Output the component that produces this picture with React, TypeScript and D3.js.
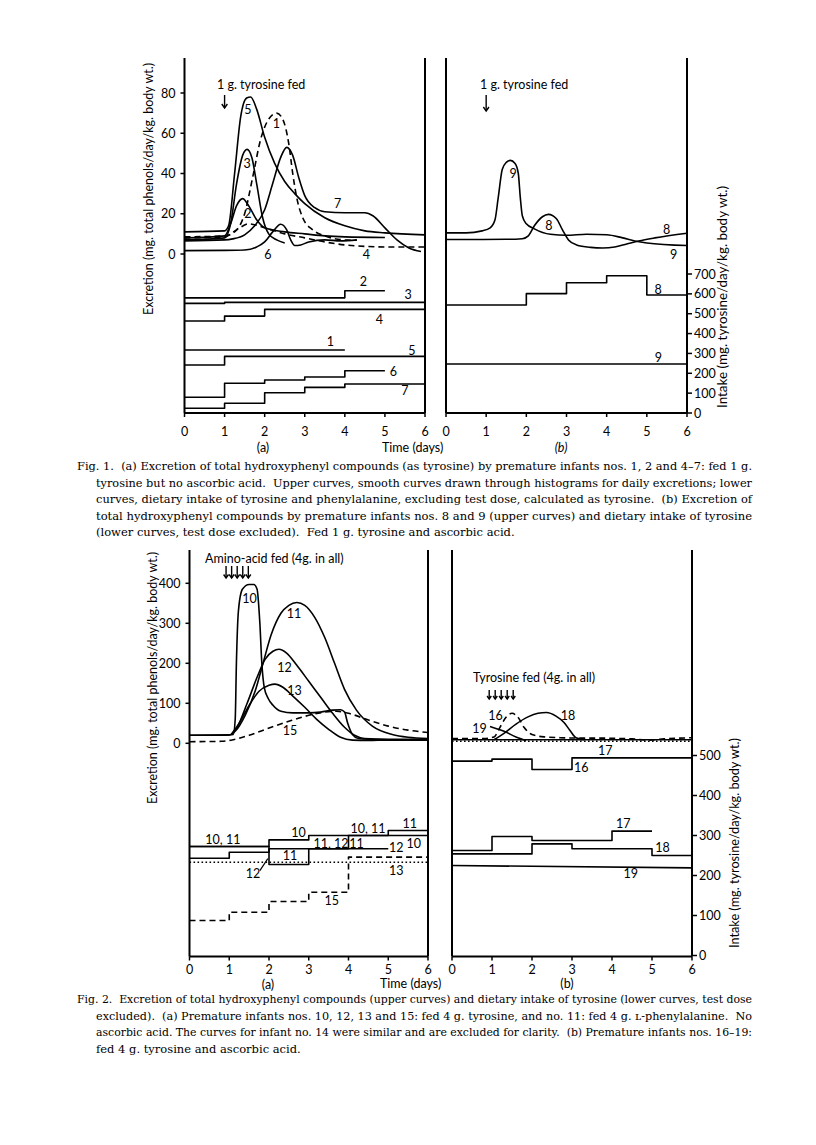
import React from "react";
import * as d3 from "d3";

type P = [number, number];
type Lab = { t: string; d: number; v: number };

// ---------------- shared ticks ----------------
const DAY_TICKS = [0, 1, 2, 3, 4, 5, 6];
const F1_EXC_TICKS = [0, 20, 40, 60, 80];
const F1_INTAKE_TICKS = [0, 100, 200, 300, 400, 500, 600, 700];
const F2_EXC_TICKS = [0, 100, 200, 300, 400];
const F2_INTAKE_TICKS = [0, 100, 200, 300, 400, 500];

// ---------------- Fig. 1 (a) excretion (day, mg/day/kg) ----------------
const F1A_EXC_1: P[] = [[0, 8.5], [1, 9], [1.3, 12], [1.5, 20], [1.7, 38], [1.9, 57], [2.1, 67], [2.3, 70], [2.45, 67], [2.6, 55], [2.7, 40], [2.8, 28], [2.95, 18], [3.2, 12], [3.5, 9], [4, 7], [4.3, 6.8]];
const F1A_EXC_2: P[] = [[0, 8], [1, 9], [1.15, 15], [1.3, 24], [1.45, 27.5], [1.6, 24], [1.8, 17], [2, 13], [2.5, 11], [3, 10], [3.5, 9], [4, 8.5], [5, 8.2]];
const F1A_EXC_3: P[] = [[0, 7], [1, 8], [1.15, 15], [1.3, 35], [1.45, 49], [1.56, 52], [1.68, 48], [1.8, 35], [1.95, 18], [2.1, 10], [2.3, 7], [2.5, 5.5]];
const F1A_EXC_4: P[] = [[0, 8], [1, 8.5], [1.3, 12], [1.6, 15], [2, 13], [2.5, 10], [3, 8], [3.5, 6], [4, 4.5], [4.5, 3.8], [5, 3.5], [6, 3.5]];
const F1A_EXC_5: P[] = [[0, 11], [1, 11.5], [1.1, 14], [1.25, 40], [1.4, 68], [1.55, 77.5], [1.65, 78], [1.8, 72], [2, 58], [2.25, 45], [2.5, 36], [2.75, 30], [3, 25], [3.5, 18], [4, 14], [4.5, 11.5], [5, 10.5], [6, 9.5]];
const F1A_EXC_6: P[] = [[0, 1.7], [1, 1.8], [1.5, 2], [1.8, 3.5], [2, 6], [2.2, 11], [2.4, 14.8], [2.55, 12], [2.65, 7], [2.75, 4.2], [2.9, 4.5], [3.1, 6], [3.5, 7], [3.9, 6.5], [4.3, 7]];
const F1A_EXC_7: P[] = [[0, 6.5], [1, 7], [1.2, 7.5], [1.5, 9.5], [1.75, 14], [2, 22], [2.2, 35], [2.4, 48], [2.55, 53], [2.7, 49], [2.85, 38], [3, 29], [3.25, 23], [3.5, 21], [4, 20.5], [4.5, 20.5], [4.7, 19], [5, 13], [5.3, 7], [5.6, 3], [5.9, 1.2]];

// ---------------- Fig. 1 (b) excretion ----------------
const F1B_EXC_8: P[] = [[0, 7.2], [1.5, 7.3], [1.9, 7.6], [2.05, 9], [2.2, 14], [2.4, 18.5], [2.55, 19.7], [2.75, 17.5], [2.9, 12], [3.05, 7], [3.25, 4.5], [3.6, 3.3], [3.9, 3], [4.2, 3.5], [4.5, 5], [4.8, 6.5], [5.2, 8], [6, 10.3]];
const F1B_EXC_9: P[] = [[0, 10.5], [0.5, 10.5], [0.9, 11.5], [1.1, 13], [1.22, 17], [1.3, 28], [1.4, 42], [1.5, 45.5], [1.6, 46.5], [1.72, 45], [1.8, 40], [1.85, 28], [1.9, 19], [2, 15], [2.2, 12.5], [2.6, 9.8], [3, 9.3], [3.5, 9.8], [4, 9.6], [4.4, 8], [4.7, 6.5], [5, 5.5], [6, 4.2]];

// ---------------- Fig. 1 intake, one value per day ----------------
const F1A_INT_1 = [317, 317, 317, 317];
const F1A_INT_2 = [580, 580, 580, 580, 616];
const F1A_INT_3 = [552, 557, 557, 557, 557, 557];
const F1A_INT_4 = [463, 488, 522, 522, 522, 522];
const F1A_INT_5 = [242, 285, 285, 285, 285, 285];
const F1A_INT_6 = [79, 150, 166, 181, 213];
const F1A_INT_7 = [24, 49, 102, 129, 146, 146];
const F1B_INT_8 = [544, 544, 601, 656, 691, 594];
const F1B_INT_9 = [247, 247, 247, 247, 247, 247];

// ---------------- Fig. 2 (a) excretion ----------------
const F2A_EXC_10: P[] = [[0, 20], [0.9, 20], [1.1, 22], [1.15, 60], [1.18, 200], [1.23, 330], [1.33, 385], [1.5, 397], [1.62, 397], [1.7, 385], [1.77, 300], [1.82, 200], [1.88, 140], [1.98, 112], [2.1, 95], [2.3, 80], [2.6, 76], [3, 76], [3.3, 78], [3.6, 83], [3.8, 84], [3.9, 78], [3.98, 50], [4.1, 22], [4.25, 12], [4.5, 10], [5, 9], [6, 9]];
const F2A_EXC_11: P[] = [[0, 20], [1, 21], [1.15, 30], [1.4, 70], [1.65, 130], [1.85, 200], [2.05, 270], [2.3, 325], [2.5, 345], [2.7, 352], [2.9, 345], [3.15, 315], [3.4, 265], [3.65, 200], [3.9, 135], [4.2, 83], [4.6, 43], [5.1, 22], [5.5, 15], [6, 12]];
const F2A_EXC_12: P[] = [[1.05, 22], [1.2, 40], [1.45, 100], [1.7, 165], [1.9, 210], [2.1, 230], [2.25, 235], [2.45, 225], [2.7, 195], [3, 155], [3.3, 115], [3.6, 75], [3.9, 40], [4.15, 20], [4.4, 12], [5, 10], [6, 10]];
const F2A_EXC_13: P[] = [[1.05, 22], [1.25, 50], [1.5, 95], [1.75, 130], [2, 145], [2.15, 148], [2.35, 140], [2.6, 118], [2.9, 90], [3.2, 60], [3.5, 35], [3.8, 15], [4.1, 8], [4.5, 7], [5, 8], [6, 8]];
const F2A_EXC_15: P[] = [[0, 4], [0.8, 5], [1.1, 9], [1.5, 20], [2, 38], [2.5, 55], [3, 70], [3.4, 78], [3.7, 80], [4, 75], [4.5, 58], [5, 43], [5.5, 33], [6, 27]];

// ---------------- Fig. 2 (b) excretion ----------------
const F2B_EXC_16: P[] = [[0, 12], [0.8, 12], [1.05, 16], [1.2, 40], [1.35, 65], [1.5, 75], [1.65, 65], [1.8, 40], [2, 22], [2.3, 16], [2.7, 14], [3.2, 13], [3.7, 13], [4.2, 12], [4.5, 11], [4.9, 8], [5.3, 11], [6, 14]];
const F2B_EXC_17: P[] = [[0, 9], [6, 9]];
const F2B_EXC_18: P[] = [[1.05, 9], [1.3, 25], [1.6, 48], [1.9, 66], [2.15, 75], [2.36, 77], [2.6, 68], [2.8, 52], [2.95, 32], [3.1, 14], [3.3, 9]];
const F2B_EXC_19: P[] = [[0.95, 42], [1.3, 30], [1.6, 16], [1.85, 7]];
const F2B_EXC_19_BASE: P[] = [[0, 5], [6, 5]];

// ---------------- Fig. 2 intake ----------------
const F2A_INT_10 = [272.5, 272.5, 289, 300, 300, 300];
const F2A_INT_11 = [272.5, 272.5, 227.5, 266.7, 300, 312.5];
const F2A_INT_12 = [243, 258, 266.7, 266.7, 266.7];
const F2A_INT_13 = [233, 233, 233, 233, 233, 233];
const F2A_INT_15 = [87.5, 108, 135, 158, 246, 246];
const F2B_INT_16 = [486, 491, 465, 494, 494, 494];
const F2B_INT_17 = [262.5, 297.5, 287.5, 287.5, 311];
const F2B_INT_18 = [254, 254, 279, 267, 267, 250];
const F2B_INT_19: P[] = [[0, 225], [6, 219]];
const F2A_POINTER_12: P[] = [[1.77, 212], [1.97, 242]];

// ---------------- feeding marks (day) ----------------
const F1_FEED_DAY = [1];
const F2A_FEED_DAYS = [0.92, 1.06, 1.2, 1.34, 1.48];
const F2B_FEED_DAYS = [0.93, 1.08, 1.23, 1.38, 1.53];

// ---------------- curve labels ----------------
const F1A_EXC_LABELS: Lab[] = [
  { t: "5", d: 1.58, v: 72 }, { t: "3", d: 1.56, v: 45 }, { t: "2", d: 1.58, v: 20 },
  { t: "1", d: 2.29, v: 65 }, { t: "7", d: 3.82, v: 25 }, { t: "6", d: 2.08, v: 0 }, { t: "4", d: 4.54, v: 0 },
];
const F1B_EXC_LABELS: Lab[] = [
  { t: "9", d: 1.67, v: 40 }, { t: "8", d: 2.56, v: 14 }, { t: "8", d: 5.49, v: 12 }, { t: "9", d: 5.67, v: 0 },
];
const F1A_INT_LABELS: Lab[] = [
  { t: "2", d: 4.46, v: 661 }, { t: "3", d: 5.58, v: 599 }, { t: "4", d: 4.86, v: 473 }, { t: "1", d: 3.64, v: 359 },
  { t: "5", d: 5.67, v: 317 }, { t: "6", d: 5.21, v: 211 }, { t: "7", d: 5.5, v: 112 },
];
const F1B_INT_LABELS: Lab[] = [{ t: "8", d: 5.28, v: 624 }, { t: "9", d: 5.29, v: 280 }];
const F2A_EXC_LABELS: Lab[] = [
  { t: "10", d: 1.51, v: 362 }, { t: "11", d: 2.63, v: 325 }, { t: "12", d: 2.39, v: 189 },
  { t: "13", d: 2.64, v: 133 }, { t: "15", d: 2.53, v: 33 },
];
const F2B_EXC_LABELS: Lab[] = [
  { t: "16", d: 1.09, v: 69 }, { t: "18", d: 2.9, v: 69 }, { t: "19", d: 0.69, v: 37 }, { t: "17", d: 3.83, v: -17 },
];
const F2A_INT_LABELS: Lab[] = [
  { t: "10, 11", d: 0.84, v: 290 }, { t: "10", d: 2.74, v: 308 }, { t: "10, 11", d: 4.49, v: 317 },
  { t: "11", d: 5.54, v: 329 }, { t: "11, 12", d: 3.56, v: 281 }, { t: "11", d: 4.2, v: 281 },
  { t: "12", d: 5.2, v: 269 }, { t: "10", d: 5.64, v: 279 }, { t: "11", d: 2.53, v: 250 },
  { t: "12", d: 1.6, v: 206 }, { t: "13", d: 5.2, v: 212.5 }, { t: "15", d: 3.58, v: 137.5 },
];
const F2B_INT_LABELS: Lab[] = [
  { t: "17", d: 4.28, v: 329 }, { t: "18", d: 5.26, v: 269 }, { t: "19", d: 4.47, v: 204 }, { t: "16", d: 3.23, v: 471 },
];

// ---------------- texts ----------------
const EXC_TITLE = "Excretion (mg. total phenols/day/kg. body wt.)";
const INT_TITLE = "Intake (mg. tyrosine/day/kg. body wt.)";
const F1_FEED_TEXT = "1 g. tyrosine fed";
const F2A_FEED_TEXT = "Amino-acid fed (4g. in all)";
const F2B_FEED_TEXT = "Tyrosine fed (4g. in all)";
const TIME_TEXT = "Time (days)";

const FIG1_CAPTION: string[] = [
  "Fig. 1.  (a) Excretion of total hydroxyphenyl compounds (as tyrosine) by premature infants nos. 1, 2 and 4\u20137: fed 1 g.",
  "tyrosine but no ascorbic acid.  Upper curves, smooth curves drawn through histograms for daily excretions; lower",
  "curves, dietary intake of tyrosine and phenylalanine, excluding test dose, calculated as tyrosine.  (b) Excretion of",
  "total hydroxyphenyl compounds by premature infants nos. 8 and 9 (upper curves) and dietary intake of tyrosine",
  "(lower curves, test dose excluded).  Fed 1 g. tyrosine and ascorbic acid.",
];
const FIG2_CAPTION: string[] = [
  "Fig. 2.  Excretion of total hydroxyphenyl compounds (upper curves) and dietary intake of tyrosine (lower curves, test dose",
  "excluded).  (a) Premature infants nos. 10, 12, 13 and 15: fed 4 g. tyrosine, and no. 11: fed 4 g. \u029F-phenylalanine.  No",
  "ascorbic acid. The curves for infant no. 14 were similar and are excluded for clarity.  (b) Premature infants nos. 16\u201319:",
  "fed 4 g. tyrosine and ascorbic acid.",
];

// ---------------- scales ----------------
const x1a = d3.scaleLinear().domain([0, 6]).range([184.5, 425]);
const x1b = d3.scaleLinear().domain([0, 6]).range([446, 687]);
const y1e = d3.scaleLinear().domain([0, 80]).range([254, 93]);
const y1i = d3.scaleLinear().domain([0, 700]).range([413, 274]);
const x2a = d3.scaleLinear().domain([0, 6]).range([189.5, 428]);
const x2b = d3.scaleLinear().domain([0, 6]).range([452, 692]);
const y2e = d3.scaleLinear().domain([0, 400]).range([743.3, 583.3]);
const y2i = d3.scaleLinear().domain([0, 500]).range([955.5, 755.5]);

const SANS = "Lato, 'Open Sans', sans-serif";
const SERIF = "'DejaVu Serif', 'Liberation Serif', serif";

type Sc = d3.ScaleLinear<number, number>;
const stepPts = (vals: number[]): P[] => [...vals.map((v, i) => [i, v] as P), [vals.length, vals[vals.length - 1]]];
const smooth = (x: Sc, y: Sc, pts: P[]) =>
  d3.line<P>().x((p) => x(p[0])).y((p) => y(p[1])).curve(d3.curveMonotoneX)(pts) || "";
const straight = (x: Sc, y: Sc, pts: P[]) => d3.line<P>().x((p) => x(p[0])).y((p) => y(p[1]))(pts) || "";
const stepLine = (x: Sc, y: Sc, vals: number[]) =>
  d3.line<P>().x((p) => x(p[0])).y((p) => y(p[1])).curve(d3.curveStepAfter)(stepPts(vals)) || "";

const DASH = "6,4";
const DOT = "1.6,2.4";

function Curve({ d, dash, w = 1.6 }: { d: string; dash?: string; w?: number }) {
  return <path d={d} fill="none" stroke="#000" strokeWidth={w} strokeDasharray={dash} strokeLinejoin="round" />;
}

function Labels({ labs, x, y, size = 12.5 }: { labs: Lab[]; x: Sc; y: Sc; size?: number }) {
  return (
    <g fontFamily={SANS} fontSize={size} textAnchor="middle" dominantBaseline="central">
      {labs.map((l, i) => (
        <text key={i} x={x(l.d)} y={y(l.v)}>{l.t}</text>
      ))}
    </g>
  );
}

function Arrow({ x, y1, y2, head = 4 }: { x: number; y1: number; y2: number; head?: number }) {
  return (
    <g stroke="#000" strokeWidth={1.4} fill="none">
      <line x1={x} y1={y1} x2={x} y2={y2} />
      <path d={`M${x - head * 0.7},${y2 - head} L${x},${y2} L${x + head * 0.7},${y2 - head}`} />
    </g>
  );
}

function Caption({ lines, x0, xIndent, right, y0, lh }: { lines: string[]; x0: number; xIndent: number; right: number; y0: number; lh: number }) {
  return (
    <g fontFamily={SERIF} fontSize={11.5} fill="#000">
      {lines.map((s, i) => {
        const x = i === 0 ? x0 : xIndent;
        const last = i === lines.length - 1;
        return last ? (
          <text key={i} x={x} y={y0 + i * lh} xmlSpace="preserve">{s}</text>
        ) : (
          <text key={i} x={x} y={y0 + i * lh} textLength={right - x} lengthAdjust="spacingAndGlyphs" xmlSpace="preserve">{s}</text>
        );
      })}
    </g>
  );
}

function BottomAxis({ x, y, labelDy }: { x: Sc; y: number; labelDy: number }) {
  return (
    <g>
      <line x1={x(0)} x2={x(6)} y1={y} y2={y} stroke="#000" strokeWidth={2} />
      {DAY_TICKS.map((t) => (
        <g key={t}>
          <line x1={x(t)} x2={x(t)} y1={y} y2={y + 4} stroke="#000" strokeWidth={1.5} />
          <text x={x(t)} y={y + labelDy} fontFamily={SANS} fontSize={12.5} textAnchor="middle">{t}</text>
        </g>
      ))}
    </g>
  );
}

function LeftTicks({ ticks, x, y }: { ticks: number[]; x: number; y: Sc }) {
  return (
    <g>
      {ticks.map((t) => (
        <g key={t}>
          <line x1={x - 4} x2={x} y1={y(t)} y2={y(t)} stroke="#000" strokeWidth={1.5} />
          <text x={x - 9} y={y(t)} fontFamily={SANS} fontSize={12.5} textAnchor="end" dominantBaseline="central">{t}</text>
        </g>
      ))}
    </g>
  );
}

function RightTicks({ ticks, x, y }: { ticks: number[]; x: number; y: Sc }) {
  return (
    <g>
      {ticks.map((t) => (
        <g key={t}>
          <line x1={x} x2={x + 5} y1={y(t)} y2={y(t)} stroke="#000" strokeWidth={1.5} />
          <text x={x + 7} y={y(t)} fontFamily={SANS} fontSize={12.5} textAnchor="start" dominantBaseline="central">{t}</text>
        </g>
      ))}
    </g>
  );
}

function VTitle({ text, cx, cy, len }: { text: string; cx: number; cy: number; len: number }) {
  return (
    <text x={0} y={0} transform={`translate(${cx},${cy}) rotate(-90)`} fontFamily={SANS} fontSize={12.5}
      textAnchor="middle" dominantBaseline="central" textLength={len} lengthAdjust="spacingAndGlyphs">{text}</text>
  );
}

export default function App() {
  const f1Top = 58;
  const f1Bot = y1i(0);
  const f2Top = 550;
  const f2Bot = y2i(0) + 1;
  const frame = (x: number, top: number, bot: number) => (
    <line x1={x} x2={x} y1={top} y2={bot} stroke="#000" strokeWidth={2} />
  );

  return (
    <svg width={816} height={1145} viewBox="0 0 816 1145" style={{ position: "absolute", left: 0, top: 0, background: "#fff" }}>
      <rect x={0} y={0} width={816} height={1145} fill="#fff" />

      {/* ================= FIG. 1 ================= */}
      {frame(x1a(0), f1Top, f1Bot)}
      {frame(x1a(6), f1Top, f1Bot)}
      {frame(x1b(0), f1Top, f1Bot)}
      {frame(x1b(6), f1Top, f1Bot)}
      <BottomAxis x={x1a} y={f1Bot} labelDy={23} />
      <BottomAxis x={x1b} y={f1Bot} labelDy={23} />
      <LeftTicks ticks={F1_EXC_TICKS} x={x1a(0)} y={y1e} />
      <RightTicks ticks={F1_INTAKE_TICKS} x={x1b(6)} y={y1i} />
      <VTitle text={EXC_TITLE} cx={148} cy={189} len={252} />
      <VTitle text={INT_TITLE} cx={722} cy={297} len={222} />

      {/* excretion (a) */}
      <Curve d={smooth(x1a, y1e, F1A_EXC_1)} dash={DASH} />
      <Curve d={smooth(x1a, y1e, F1A_EXC_4)} dash={DASH} />
      <Curve d={smooth(x1a, y1e, F1A_EXC_2)} />
      <Curve d={smooth(x1a, y1e, F1A_EXC_3)} />
      <Curve d={smooth(x1a, y1e, F1A_EXC_5)} />
      <Curve d={smooth(x1a, y1e, F1A_EXC_6)} />
      <Curve d={smooth(x1a, y1e, F1A_EXC_7)} />
      <Labels labs={F1A_EXC_LABELS} x={x1a} y={y1e} />
      {/* excretion (b) */}
      <Curve d={smooth(x1b, y1e, F1B_EXC_8)} />
      <Curve d={smooth(x1b, y1e, F1B_EXC_9)} />
      <Labels labs={F1B_EXC_LABELS} x={x1b} y={y1e} />

      {/* intake */}
      {[F1A_INT_1, F1A_INT_2, F1A_INT_3, F1A_INT_4, F1A_INT_5, F1A_INT_6, F1A_INT_7].map((v, i) => (
        <Curve key={i} d={stepLine(x1a, y1i, v)} />
      ))}
      <Labels labs={F1A_INT_LABELS} x={x1a} y={y1i} />
      <Curve d={stepLine(x1b, y1i, F1B_INT_8)} />
      <Curve d={stepLine(x1b, y1i, F1B_INT_9)} />
      <Labels labs={F1B_INT_LABELS} x={x1b} y={y1i} />

      {/* feeding */}
      <text x={217} y={89} fontFamily={SANS} fontSize={12.5}>{F1_FEED_TEXT}</text>
      <text x={480} y={89} fontFamily={SANS} fontSize={12.5}>{F1_FEED_TEXT}</text>
      {F1_FEED_DAY.map((d) => <Arrow key={"a" + d} x={x1a(d)} y1={95} y2={108} />)}
      {F1_FEED_DAY.map((d) => <Arrow key={"b" + d} x={x1b(d)} y1={95} y2={111} />)}

      <text x={263} y={452} fontFamily={SANS} fontSize={12.5} textAnchor="middle">(a)</text>
      <text x={382} y={452} fontFamily={SANS} fontSize={12.5}>{TIME_TEXT}</text>
      <text x={561} y={452} fontFamily={SANS} fontSize={12.5} textAnchor="middle" fontStyle="italic">(b)</text>

      <Caption lines={FIG1_CAPTION} x0={77} xIndent={96} right={752} y0={470} lh={16.5} />

      {/* ================= FIG. 2 ================= */}
      {frame(x2a(0), f2Top, f2Bot)}
      {frame(x2a(6), f2Top, f2Bot)}
      {frame(x2b(0), f2Top, f2Bot)}
      {frame(x2b(6), f2Top, f2Bot)}
      <BottomAxis x={x2a} y={f2Bot} labelDy={17} />
      <BottomAxis x={x2b} y={f2Bot} labelDy={17} />
      <LeftTicks ticks={F2_EXC_TICKS} x={x2a(0)} y={y2e} />
      <RightTicks ticks={F2_INTAKE_TICKS} x={x2b(6)} y={y2i} />
      <VTitle text={EXC_TITLE} cx={152} cy={678} len={252} />
      <VTitle text={INT_TITLE} cx={734} cy={843} len={210} />

      {/* excretion (a) */}
      <Curve d={smooth(x2a, y2e, F2A_EXC_15)} dash={DASH} />
      <Curve d={smooth(x2a, y2e, F2A_EXC_10)} />
      <Curve d={smooth(x2a, y2e, F2A_EXC_11)} />
      <Curve d={smooth(x2a, y2e, F2A_EXC_12)} />
      <Curve d={smooth(x2a, y2e, F2A_EXC_13)} />
      <Labels labs={F2A_EXC_LABELS} x={x2a} y={y2e} />
      {/* excretion (b) */}
      <Curve d={smooth(x2b, y2e, F2B_EXC_16)} dash={DASH} />
      <Curve d={straight(x2b, y2e, F2B_EXC_17)} />
      <Curve d={straight(x2b, y2e, F2B_EXC_19_BASE)} dash={DOT} />
      <Curve d={smooth(x2b, y2e, F2B_EXC_18)} />
      <Curve d={smooth(x2b, y2e, F2B_EXC_19)} />
      <Labels labs={F2B_EXC_LABELS} x={x2b} y={y2e} />

      {/* intake (a) */}
      <Curve d={stepLine(x2a, y2i, F2A_INT_10)} />
      <Curve d={stepLine(x2a, y2i, F2A_INT_11)} />
      <Curve d={stepLine(x2a, y2i, F2A_INT_12)} />
      <Curve d={stepLine(x2a, y2i, F2A_INT_13)} dash={DOT} />
      <Curve d={stepLine(x2a, y2i, F2A_INT_15)} dash={DASH} />
      <Labels labs={F2A_INT_LABELS} x={x2a} y={y2i} />
      <path d={straight(x2a, y2i, F2A_POINTER_12)} stroke="#000" strokeWidth={1.2} fill="none" />
      {/* intake (b) */}
      <Curve d={stepLine(x2b, y2i, F2B_INT_16)} />
      <Curve d={stepLine(x2b, y2i, F2B_INT_17)} />
      <Curve d={stepLine(x2b, y2i, F2B_INT_18)} />
      <Curve d={straight(x2b, y2i, F2B_INT_19)} />
      <Labels labs={F2B_INT_LABELS} x={x2b} y={y2i} />

      {/* feeding */}
      <text x={205} y={563} fontFamily={SANS} fontSize={12.5}>{F2A_FEED_TEXT}</text>
      {F2A_FEED_DAYS.map((d) => <Arrow key={"fa" + d} x={x2a(d)} y1={566} y2={578} head={3.5} />)}
      <text x={473} y={682} fontFamily={SANS} fontSize={12.5}>{F2B_FEED_TEXT}</text>
      {F2B_FEED_DAYS.map((d) => <Arrow key={"fb" + d} x={x2b(d)} y1={690} y2={699} head={3} />)}

      <text x={268} y={989} fontFamily={SANS} fontSize={12.5} textAnchor="middle">(a)</text>
      <text x={380} y={988} fontFamily={SANS} fontSize={12.5}>{TIME_TEXT}</text>
      <text x={567} y={988} fontFamily={SANS} fontSize={12.5} textAnchor="middle">(b)</text>

      <Caption lines={FIG2_CAPTION} x0={77} xIndent={96} right={752} y0={1003} lh={16.5} />
    </svg>
  );
}
